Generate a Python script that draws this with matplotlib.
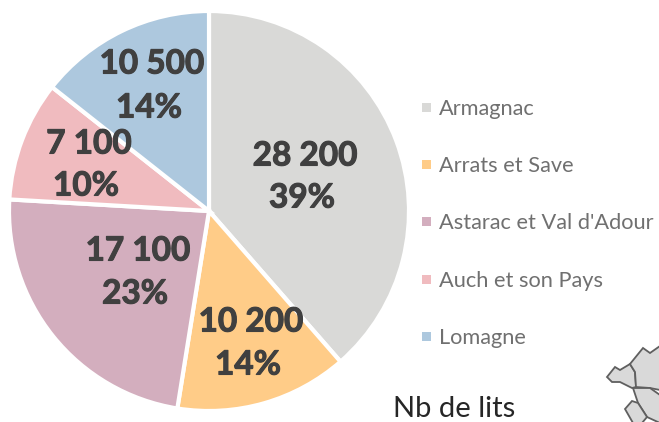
import matplotlib
matplotlib.use("Agg")
import matplotlib.pyplot as plt
import matplotlib.patheffects as pe
from matplotlib.patches import Polygon, Rectangle

secteurs = ["Armagnac", "Arrats et Save", "Astarac et Val d'Adour", "Auch et son Pays", "Lomagne"]
lits = [28200, 10200, 17100, 7100, 10500]
lits_txt = ["28 200", "10 200", "17 100", "7 100", "10 500"]
parts_txt = ["39%", "14%", "23%", "10%", "14%"]
couleurs = ["#D9D9D7", "#FFCC88", "#D3AEBE", "#F0BBBF", "#ADC8DE"]

# label positions in pixels (x, y of number line, y of percent line)
pos_labels = [(305, 156, 198), (251, 322, 365), (138, 251, 294), (89, 144, 186), (152, 64, 108)]
legend_y = [109, 166, 223, 281, 338]

W, H = 659, 422
fig = plt.figure(figsize=(W / 100, H / 100), dpi=100)
ax = fig.add_axes([0, 0, 1, 1])

ax.pie(lits, colors=couleurs, startangle=90, counterclock=False, center=(209, H - 211), radius=200,
       wedgeprops=dict(edgecolor="white", linewidth=3))
ax.set_xlim(0, W)
ax.set_ylim(0, H)
ax.set_aspect("equal")
ax.axis("off")

gras = [pe.withStroke(linewidth=0.8, foreground="#404040")]
for (x, y1, y2), a, b in zip(pos_labels, lits_txt, parts_txt):
    ax.text(x, H - y1, a, fontsize=24, fontweight="bold", family="Lato", color="#404040",
            ha="center", va="center", path_effects=gras)
    ax.text(x - 3, H - y2, b, fontsize=24, fontweight="bold", family="Lato", color="#404040",
            ha="center", va="center", path_effects=gras)

for y, nom, c in zip(legend_y, secteurs, couleurs):
    ax.add_patch(Rectangle((422, H - y + 2 - 4.5), 9, 9, color=c, lw=0))
    ax.text(439, H - y, nom, fontsize=15.7, family="Lato", color="#707070", ha="left", va="center")

ax.text(393, H - 409, "Nb de lits", fontsize=21, family="Lato", color="#262626", ha="left", va="center")

# bit of the map cropped in the corner
carte = [
    [(607, 377), (615, 367), (620, 370), (630, 364), (635, 372), (636, 387), (632, 388), (620, 382), (612, 382)],
    [(630, 364), (643, 348), (650, 353), (660, 346), (660, 390), (650, 388), (636, 387), (635, 372)],
    [(633, 388), (650, 388), (660, 395), (660, 423), (647, 417), (638, 403)],
    [(625, 409), (632, 401), (638, 403), (647, 417), (642, 423), (633, 423)],
]
for p in carte:
    ax.add_patch(Polygon([(x, H - y) for x, y in p], closed=True, facecolor="#D9D9D9", edgecolor="#5f5f5f", lw=1.3))

fig.savefig("out.png", dpi=100)
